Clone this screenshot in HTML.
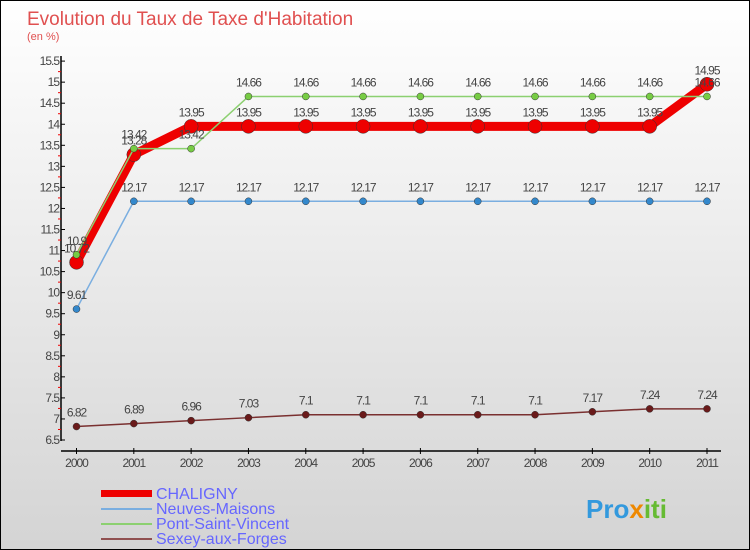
<!DOCTYPE html>
<html><head><meta charset="utf-8"><style>
body{margin:0}
#c{width:748px;height:548px;border:1px solid #000;position:relative;background:linear-gradient(#fff,#d4d4d4);font-family:"Liberation Sans",sans-serif;overflow:hidden}
</style></head><body>
<div id="c">
<svg width="748" height="548" id="s">
<text x="26" y="24" font-size="19" fill="#e05050">Evolution du Taux de Taxe d'Habitation</text>
<text x="26" y="39" font-size="11" fill="#e05050">(en %)</text>
<g id="ax"></g><g id="series"></g>
<g font-size="16" fill="#6666ff">
<rect x="100" y="489" width="51" height="7" fill="#e00"/>
<text x="155" y="498">CHALIGNY</text>
<line x1="100" y1="508" x2="151" y2="508" stroke="#7aaee0" stroke-width="2"/>
<text x="155" y="513">Neuves-Maisons</text>
<line x1="100" y1="523" x2="151" y2="523" stroke="#8cd070" stroke-width="2"/>
<text x="155" y="528">Pont-Saint-Vincent</text>
<line x1="100" y1="538" x2="151" y2="538" stroke="#905050" stroke-width="2"/>
<text x="155" y="543">Sexey-aux-Forges</text>
</g>
<text x="585" y="517" font-size="26" font-weight="bold" fill="#3399dd">Pro<tspan fill="#ee8800">x</tspan><tspan fill="#66bb33">iti</tspan></text>
</svg></div>
<script>
const years=[2000,2001,2002,2003,2004,2005,2006,2007,2008,2009,2010,2011];
const yTicks=[6.5,7,7.5,8,8.5,9,9.5,10,10.5,11,11.5,12,12.5,13,13.5,14,14.5,15,15.5];
const chaligny=[10.72,13.28,13.95,13.95,13.95,13.95,13.95,13.95,13.95,13.95,13.95,14.95];
const neuves=[9.61,12.17,12.17,12.17,12.17,12.17,12.17,12.17,12.17,12.17,12.17,12.17];
const pont=[10.9,13.42,13.42,14.66,14.66,14.66,14.66,14.66,14.66,14.66,14.66,14.66];
const sexey=[6.82,6.89,6.96,7.03,7.1,7.1,7.1,7.1,7.1,7.17,7.24,7.24];
const NS="http://www.w3.org/2000/svg";
const X=i=>75.5+i*(706-75.5)/11;
const Y=v=>439-(v-6.5)*42.1;
function mk(t,a,p){const e=document.createElementNS(NS,t);for(const k in a)e.setAttribute(k,a[k]);p.appendChild(e);return e;}
const ax=document.getElementById('ax');
const yl=mk('line',{x1:60,y1:55,x2:60,y2:440,stroke:'#000','stroke-width':1.5},ax);


const xl=mk('line',{x1:60,y1:450,x2:720,y2:450,stroke:'#000','stroke-width':1.5},ax);


yTicks.forEach((v,i)=>{
 mk('line',{x1:60,y1:Y(v),x2:64,y2:Y(v),stroke:'#000'},ax);
 if(i<yTicks.length-1)mk('line',{x1:57,y1:Y(v+0.25),x2:60,y2:Y(v+0.25),stroke:'#e00'},ax);
 const t=mk('text',{x:58,y:Y(v)+4,'text-anchor':'end','font-size':12,fill:'#444','letter-spacing':'-1'},ax);
 t.textContent=String(v);
 
 
});
years.forEach((y,i)=>{
 mk('line',{x1:X(i),y1:447,x2:X(i),y2:453,stroke:'#000'},ax);
 const t=mk('text',{x:X(i),y:466,'text-anchor':'middle','font-size':12,fill:'#444','letter-spacing':'-1'},ax);
 t.textContent=y;
 
 
});
const sg=document.getElementById('series');
function series(vals,name,col,w,r,dot){
 const g=mk('g',{},sg);
 
 
 mk('polyline',{points:vals.map((v,i)=>X(i)+','+Y(v)).join(' '),fill:'none',stroke:col,'stroke-width':w,'stroke-linejoin':'round'},g);
 vals.forEach((v,i)=>{
  const c=mk('circle',{cx:X(i),cy:Y(v),r:r,fill:dot,stroke:'#333','stroke-width':0.5},g);
  
  
  const t=mk('text',{x:X(i),y:Y(v)-10,'text-anchor':'middle','font-size':12,fill:'#444','letter-spacing':'-1'},g);
  t.textContent=String(v);
  
  
 });
}
series(sexey,'sexey','#7a3030',1.5,3.5,'#6a1a1a');
series(neuves,'neuves','#7aaee0',1.5,3.5,'#3388cc');
series(chaligny,'chaligny','#e00',9,7,'#e00');
series(pont,'pont','#8cd070',1.5,3.5,'#77cc44');
</script>
</body></html>
